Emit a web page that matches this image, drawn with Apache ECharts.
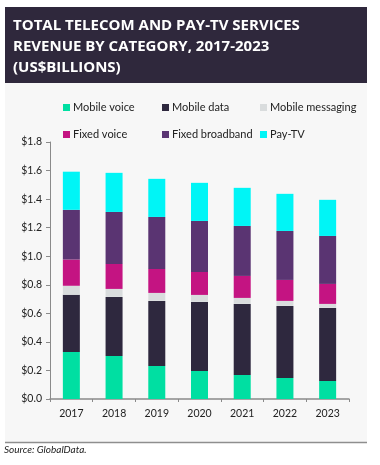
<!DOCTYPE html>
<html><head><meta charset="utf-8">
<script src="https://cdn.jsdelivr.net/npm/echarts@6/dist/echarts.min.js"></script>
<style>html,body{margin:0;padding:0;background:#fff}#c{width:380px;height:465px}</style>
</head><body><div id="c"></div>
<script>
const years = ['2017','2018','2019','2020','2021','2022','2023'];
const mobileVoice = [0.330, 0.301, 0.231, 0.196, 0.168, 0.147, 0.126];
const mobileData = [0.400, 0.414, 0.456, 0.484, 0.498, 0.505, 0.512];
const mobileMessaging = [0.063, 0.056, 0.056, 0.049, 0.042, 0.035, 0.028];
const fixedVoice = [0.184, 0.175, 0.168, 0.161, 0.154, 0.147, 0.140];
const fixedBroadband = [0.348, 0.364, 0.364, 0.357, 0.350, 0.343, 0.336];
const payTV = [0.267, 0.274, 0.267, 0.267, 0.267, 0.260, 0.253];
const yTicks = ['$0.0','$0.2','$0.4','$0.6','$0.8','$1.0','$1.2','$1.4','$1.6','$1.8'];

const names = ['Mobile voice','Mobile data','Mobile messaging','Fixed voice','Fixed broadband','Pay-TV'];
const colors = ['#00DFA2','#2E283E','#D9DCDD','#C41482','#5A3472','#00F5F6'];
const datas = [mobileVoice, mobileData, mobileMessaging, fixedVoice, fixedBroadband, payTV];
const legendPos = [[63,102],[162,102],[260,102],[63,129],[162,129],[260,129]];
const font = '"Open Sans", "Noto Sans", sans-serif';
const font2 = 'Lato, "Open Sans", sans-serif';

const chart = echarts.init(document.getElementById('c'), null, {renderer:'canvas'});
chart.setOption({
  animation: false,
  graphic: [
    {type:'rect', shape:{x:5,y:83,width:362,height:359}, style:{fill:'#F7F7F7'}, z:-10},
    {type:'rect', shape:{x:5,y:7,width:362,height:76}, style:{fill:'#2F283C'}, z:-9},
    {type:'line', shape:{x1:5,y1:442.5,x2:367,y2:442.5}, style:{stroke:'#8E8E8E',lineWidth:1.5}},
    {type:'text', left:13, top:15, style:{text:'TOTAL TELECOM AND PAY-TV SERVICES\nREVENUE BY CATEGORY, 2017-2023\n(US$BILLIONS)', fill:'#fff', font:'bold 15px ' + font, lineHeight:21}},
    {type:'text', left:4, top:445, style:{text:'Source: GlobalData.', fill:'#222', font:'italic 10px ' + font2}}
  ],
  legend: names.map((n,i)=>({
    data:[n], left:legendPos[i][0], top:legendPos[i][1],
    icon:'rect', itemWidth:7, itemHeight:7, itemGap:0,
    textStyle:{fontSize:11, color:'#222', fontFamily:font2, padding:[0,0,0,-2]},
    padding:0
  })),
  grid: {left:50, right:31, top:142, bottom:66, containLabel:false},
  xAxis: {
    type:'category', data:years,
    axisLine:{lineStyle:{color:'#8A8A8A', width:1.5}},
    axisTick:{show:true, length:3, lineStyle:{color:'#8A8A8A'}},
    axisLabel:{color:'#222', fontSize:10.5, fontFamily:font2, margin:9}
  },
  yAxis: {
    type:'value', min:0, max:1.8, interval:0.2,
    axisLine:{show:true, lineStyle:{color:'#8A8A8A', width:1}},
    axisTick:{show:true, length:4, lineStyle:{color:'#8A8A8A'}},
    splitLine:{show:false},
    axisLabel:{color:'#222', fontSize:10.5, fontFamily:font2, margin:8,
      formatter:(v)=>yTicks[Math.round(v/0.2)]}
  },
  series: names.map((n,i)=>({
    name:n, type:'bar', stack:'total', data:datas[i], barWidth:17,
    itemStyle:{color:colors[i]}
  }))
});
</script></body></html>
